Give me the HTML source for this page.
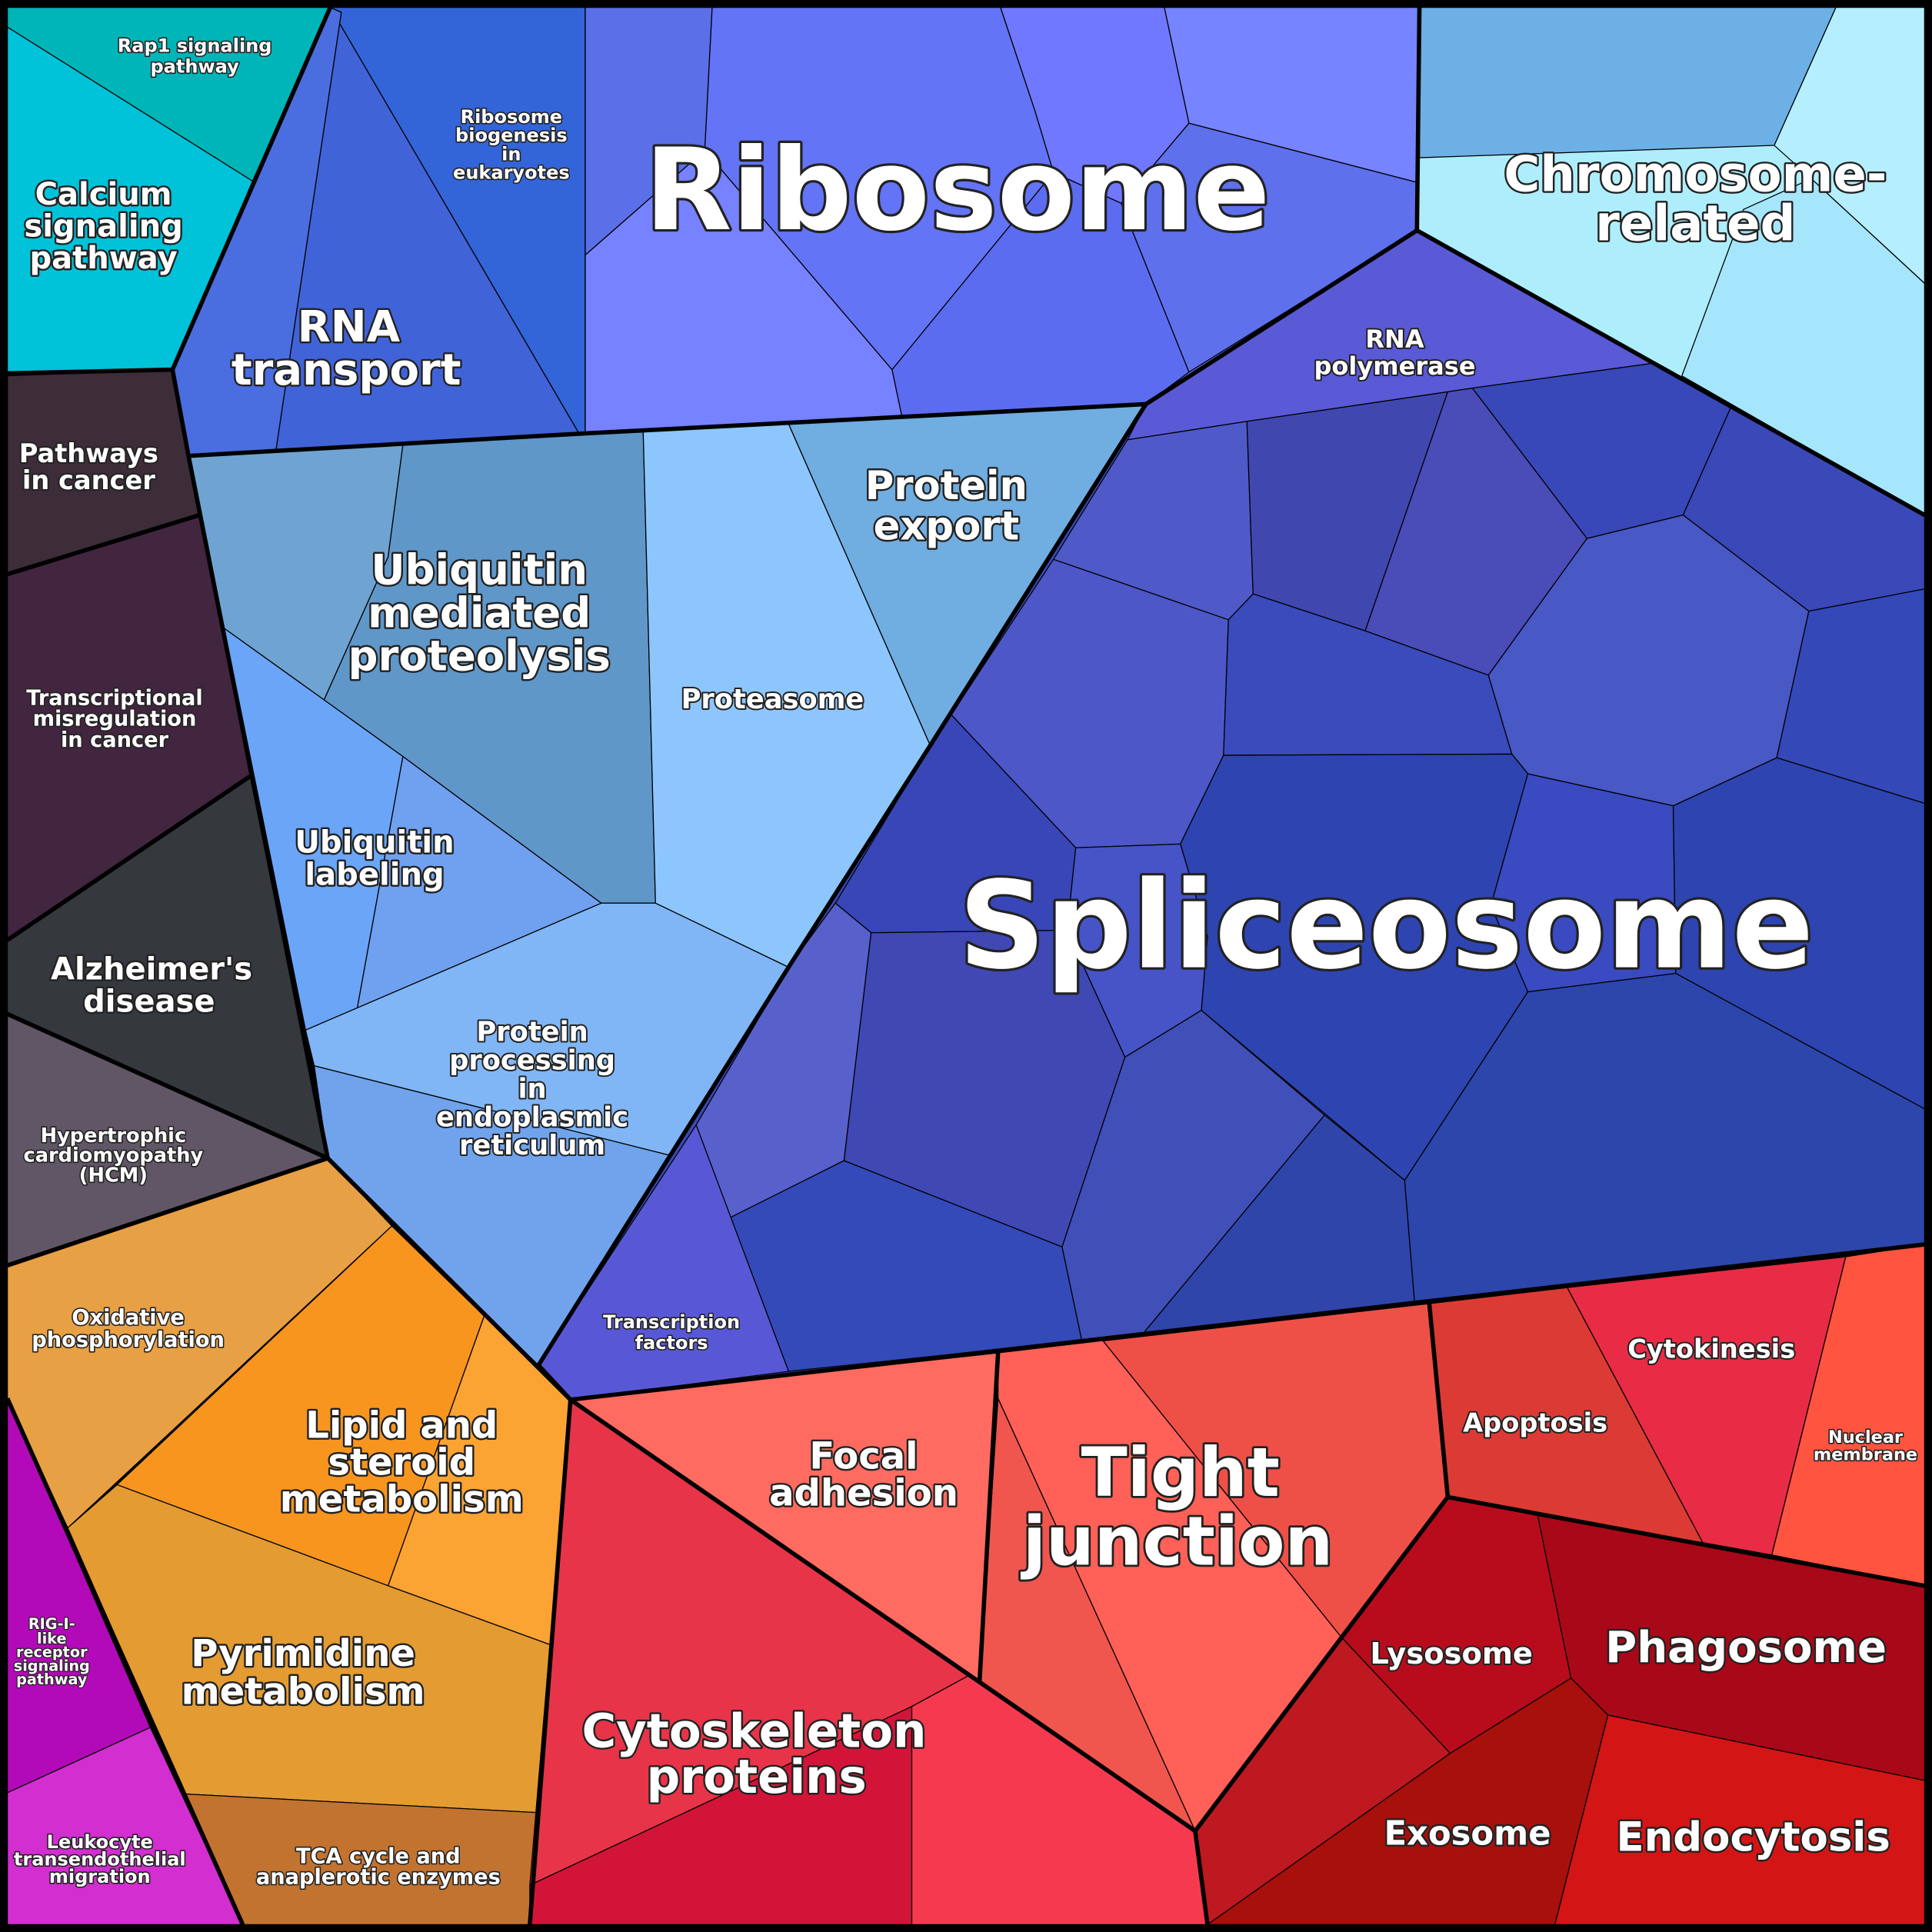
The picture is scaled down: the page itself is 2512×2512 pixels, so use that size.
<!DOCTYPE html>
<html><head><meta charset="utf-8"><style>
html,body{margin:0;padding:0;background:#000}
svg{display:block}
text{font-family:"DejaVu Sans","Liberation Sans",sans-serif;font-weight:bold;fill:#fff;text-anchor:middle;paint-order:stroke;stroke:#222;stroke-linejoin:round}
.k{stroke:#000;stroke-width:3.5;fill:none;stroke-linejoin:round}
</style></head><body>
<svg width="2512" height="2512" viewBox="0 0 1568 1568" xmlns="http://www.w3.org/2000/svg">
<rect x="0" y="0" width="1568" height="1568" fill="#000"/>
<g stroke="#000" stroke-width="0.8" stroke-linejoin="round">
<polygon fill="#00b5b8" points="6,6 268,6 205,147 6,22"/>
<polygon fill="#00c2d8" points="6,22 205,147 140,300 6,303"/>
<polygon fill="#3364d8" points="268,6 475,6 475,352 470,352"/>
<polygon fill="#4163d8" points="268,6 470,352 224,365 277,10"/>
<polygon fill="#4a6ee0" points="268,6 277,10 224,365 153,370 140,300 205,147"/>
<polygon fill="#6676f5" points="475,6 1152,6 1150,187 930,328 475,352"/>
<polygon fill="#5a6fe8" points="475,6 578,6 572,122 475,207"/>
<polygon fill="#7682ff" points="475,207 572,122 724,300 732,338 475,352"/>
<polygon fill="#6474f6" points="578,6 812,6 840,90 855,140 724,300 572,122"/>
<polygon fill="#7078ff" points="812,6 945,6 965,100 910,165 855,140 840,90"/>
<polygon fill="#7684ff" points="945,6 1152,6 1150,148 965,100"/>
<polygon fill="#5c6cf0" points="855,140 910,165 965,302 930,328 732,338 724,300"/>
<polygon fill="#5e70ec" points="965,100 1150,148 1150,187 965,302 910,165"/>
<polygon fill="#aeeefc" points="1152,6 1562,6 1562,418 1150,187"/>
<polygon fill="#6db0e6" points="1152,6 1490,6 1440,118 1152,128"/>
<polygon fill="#b4eeff" points="1490,6 1562,6 1562,230 1470,145 1440,118"/>
<polygon fill="#a6e6fc" points="1415,170 1470,145 1562,230 1562,418 1365,305"/>
<polygon fill="#3a4ab8" points="930,328 1150,187 1562,418 1562,1010 463,1136 437,1108"/>
<polygon fill="#5a5ad6" points="930,328 1150,187 1340,295 1195,315 1012,342 915,357"/>
<polygon fill="#4f5ac8" points="915,357 1012,342 1017,482 997,503 855,454"/>
<polygon fill="#4048b0" points="1012,342 1175,318 1108,512 1017,482"/>
<polygon fill="#4a4cb8" points="1175,318 1195,315 1288,437 1208,548 1108,512"/>
<polygon fill="#3848b8" points="1195,315 1340,295 1405,330 1366,418 1288,437"/>
<polygon fill="#3a48b8" points="1405,330 1562,418 1562,478 1468,496 1366,418"/>
<polygon fill="#4d57c8" points="855,454 997,503 993,613 958,685 873,688 772,580"/>
<polygon fill="#3a4bbb" points="997,503 1017,482 1108,512 1208,548 1227,612 993,613"/>
<polygon fill="#4858c4" points="1288,437 1366,418 1468,496 1442,615 1358,654 1240,628 1227,612 1208,548"/>
<polygon fill="#3448b8" points="1468,496 1562,478 1562,652 1442,615"/>
<polygon fill="#2e44b0" points="958,685 993,613 1227,612 1240,628 1210,735 1240,805 1140,958 975,820 980,760"/>
<polygon fill="#4654c8" points="873,688 958,685 980,760 975,820 913,858 866,755"/>
<polygon fill="#3846b8" points="755,605 772,580 873,688 866,755 707,757 678,733"/>
<polygon fill="#5860cc" points="678,733 707,757 685,942 593,988 565,913 640,785"/>
<polygon fill="#4048b4" points="707,757 866,755 913,858 862,1012 685,942"/>
<polygon fill="#334ab8" points="685,942 862,1012 878,1088 640,1113 593,988"/>
<polygon fill="#4050b8" points="913,858 975,820 1075,905 928,1082 878,1088 862,1012"/>
<polygon fill="#2f45aa" points="1075,905 1140,958 1148,1056 928,1082"/>
<polygon fill="#3a4ac0" points="1210,735 1240,628 1358,654 1360,790 1240,805"/>
<polygon fill="#2e44b0" points="1358,654 1442,615 1562,652 1562,900 1360,790"/>
<polygon fill="#2c46ac" points="1240,805 1360,790 1562,900 1562,1010 1148,1056 1140,958"/>
<polygon fill="#5858d6" points="565,913 640,1113 463,1136 437,1108"/>
<polygon fill="#3c2d38" points="6,305 140,300 162,418 6,466"/>
<polygon fill="#42253f" points="6,466 162,418 203,630 6,763"/>
<polygon fill="#35383d" points="6,763 203,630 266,940 6,823"/>
<polygon fill="#615666" points="6,823 266,940 6,1027"/>
<polygon fill="#6fa3d1" points="153,370 327,361 315,452 263,568 182,510"/>
<polygon fill="#5f97c9" points="327,361 522,350 532,733 488,733 327,614 263,568 315,452"/>
<polygon fill="#8cc6fc" points="522,350 640,344 755,605 640,785 532,733"/>
<polygon fill="#70ade0" points="640,344 930,328 755,605"/>
<polygon fill="#6aa5f8" points="182,510 263,568 327,614 290,818 248,836"/>
<polygon fill="#70a0f0" points="327,614 488,733 290,818"/>
<polygon fill="#80b6f5" points="248,836 290,818 488,733 532,733 640,785 545,938 255,865"/>
<polygon fill="#70a3ec" points="255,865 545,938 437,1108 266,940"/>
<polygon fill="#e8a045" points="6,1027 266,940 318,995 55,1240 6,1135"/>
<polygon fill="#f7951f" points="318,995 393,1068 315,1287 95,1205"/>
<polygon fill="#fba333" points="393,1068 437,1108 463,1136 447,1335 315,1287"/>
<polygon fill="#e39b32" points="95,1205 315,1287 447,1335 435,1471 150,1456 55,1240"/>
<polygon fill="#c27330" points="150,1456 435,1471 430,1562 197,1562"/>
<polygon fill="#b20ab8" points="6,1135 122,1402 6,1455"/>
<polygon fill="#d22ed0" points="6,1455 122,1402 197,1562 6,1562"/>
<polygon fill="#ff6b60" points="463,1136 810,1098 795,1365 786,1360"/>
<polygon fill="#ee5048" points="810,1098 1160,1058 1175,1215 1088,1328 895,1088"/>
<polygon fill="#ff6057" points="810,1098 895,1088 1088,1328 970,1486 810,1135"/>
<polygon fill="#f0564e" points="810,1135 970,1486 795,1365"/>
<polygon fill="#e83448" points="463,1136 786,1360 740,1385 430,1530"/>
<polygon fill="#d31439" points="430,1530 740,1385 740,1562 430,1562"/>
<polygon fill="#f53a50" points="740,1385 786,1360 970,1486 980,1562 740,1562"/>
<polygon fill="#dc3a34" points="1160,1058 1272,1045 1382,1252 1248,1230 1175,1215"/>
<polygon fill="#e82c46" points="1272,1045 1498,1020 1438,1262 1382,1252"/>
<polygon fill="#ff5540" points="1498,1020 1562,1010 1562,1287 1438,1262"/>
<polygon fill="#b80c1c" points="1175,1215 1248,1230 1275,1362 1177,1423 1088,1328"/>
<polygon fill="#a80818" points="1248,1230 1562,1287 1562,1445 1305,1392 1275,1362"/>
<polygon fill="#be1820" points="1088,1328 1177,1423 980,1562 970,1486"/>
<polygon fill="#a8100c" points="1177,1423 1275,1362 1305,1392 1262,1562 980,1562"/>
<polygon fill="#d41515" points="1305,1392 1562,1445 1562,1562 1262,1562"/>
</g>
<g class="k">
<polyline points="268,6 140,300 6,303"/>
<polyline points="1152,6 1150,187 930,328 470,352 153,370 140,300"/>
<polyline points="1150,187 1562,418"/>
<polyline points="930,328 755,605 640,785 437,1108 463,1136"/>
<polyline points="153,370 266,940 463,1136 1562,1010"/>
<polyline points="6,466 162,418"/><polyline points="6,763 203,630"/><polyline points="6,823 266,940 6,1027"/>
<polyline points="6,1135 197,1562"/>
<polyline points="463,1136 430,1562"/>
<polyline points="463,1136 970,1486 980,1562"/>
<polyline points="810,1098 795,1365"/>
<polyline points="1160,1058 1175,1215 970,1486"/>
<polyline points="1175,1215 1562,1287"/>
<rect x="3" y="3" width="1562" height="1562" stroke-width="6"/>
</g>
<text x="158" y="42" font-size="15" stroke-width="2">Rap1 signaling<tspan x="158" dy="17">pathway</tspan></text>
<text x="84" y="166" font-size="25" stroke-width="3">Calcium<tspan x="84" dy="26">signaling</tspan><tspan x="84" dy="26">pathway</tspan></text>
<text x="415" y="100" font-size="15" stroke-width="2">Ribosome<tspan x="415" dy="15">biogenesis</tspan><tspan x="415" dy="15">in</tspan><tspan x="415" dy="15">eukaryotes</tspan></text>
<text x="283" y="277" font-size="35" stroke-width="3">RNA<tspan x="281" dy="35">transport</tspan></text>
<text x="777" y="186" font-size="92" stroke-width="4">Ribosome</text>
<text x="1376" y="155" font-size="40" stroke-width="3">Chromosome-<tspan x="1376" dy="40">related</tspan></text>
<text x="1132" y="282" font-size="20" stroke-width="2.5">RNA<tspan x="1132" dy="22">polymerase</tspan></text>
<text x="72" y="375" font-size="21" stroke-width="2.5">Pathways<tspan x="72" dy="22">in cancer</tspan></text>
<text x="93" y="572" font-size="17" stroke-width="2">Transcriptional<tspan x="93" dy="17">misregulation</tspan><tspan x="93" dy="17">in cancer</tspan></text>
<text x="123" y="795" font-size="25" stroke-width="3">Alzheimer's<tspan x="121" dy="26">disease</tspan></text>
<text x="92" y="927" font-size="16" stroke-width="2">Hypertrophic<tspan x="92" dy="16">cardiomyopathy</tspan><tspan x="92" dy="16">(HCM)</tspan></text>
<text x="389" y="474" font-size="34" stroke-width="3">Ubiquitin<tspan x="389" dy="35">mediated</tspan><tspan x="389" dy="35">proteolysis</tspan></text>
<text x="627" y="575" font-size="22" stroke-width="2.5">Proteasome</text>
<text x="768" y="405" font-size="32" stroke-width="3">Protein<tspan x="768" dy="33">export</tspan></text>
<text x="304" y="692" font-size="25" stroke-width="3">Ubiquitin<tspan x="304" dy="26">labeling</tspan></text>
<text x="432" y="845" font-size="22" stroke-width="2.5">Protein<tspan x="432" dy="23">processing</tspan><tspan x="432" dy="23">in</tspan><tspan x="432" dy="23">endoplasmic</tspan><tspan x="432" dy="23">reticulum</tspan></text>
<text x="1125" y="785" font-size="98" stroke-width="4">Spliceosome</text>
<text x="545" y="1078" font-size="15" stroke-width="2">Transcription<tspan x="545" dy="17">factors</tspan></text>
<text x="104" y="1075" font-size="17" stroke-width="2">Oxidative<tspan x="104" dy="18">phosphorylation</tspan></text>
<text x="326" y="1167" font-size="30" stroke-width="3">Lipid and<tspan x="326" dy="30">steroid</tspan><tspan x="326" dy="30">metabolism</tspan></text>
<text x="246" y="1352" font-size="30" stroke-width="3">Pyrimidine<tspan x="246" dy="31">metabolism</tspan></text>
<text x="307" y="1512" font-size="17" stroke-width="2">TCA cycle and<tspan x="307" dy="17">anaplerotic enzymes</tspan></text>
<text x="42" y="1322" font-size="12" stroke-width="1.5">RIG-I-<tspan x="42" dy="12">like</tspan><tspan x="42" dy="11">receptor</tspan><tspan x="42" dy="11">signaling</tspan><tspan x="42" dy="11">pathway</tspan></text>
<text x="81" y="1500" font-size="15" stroke-width="2">Leukocyte<tspan x="81" dy="14">transendothelial</tspan><tspan x="81" dy="14">migration</tspan></text>
<text x="701" y="1192" font-size="30" stroke-width="3">Focal<tspan x="701" dy="30">adhesion</tspan></text>
<text x="958" y="1214" font-size="55" stroke-width="3.5">Tight<tspan x="956" dy="56">junction</tspan></text>
<text x="612" y="1418" font-size="38" stroke-width="3">Cytoskeleton<tspan x="614" dy="37">proteins</tspan></text>
<text x="1246" y="1162" font-size="21" stroke-width="2.5">Apoptosis</text>
<text x="1389" y="1102" font-size="21" stroke-width="2.5">Cytokinesis</text>
<text x="1514" y="1171" font-size="14" stroke-width="2">Nuclear<tspan x="1514" dy="14">membrane</tspan></text>
<text x="1178" y="1350" font-size="24" stroke-width="2.5">Lysosome</text>
<text x="1417" y="1349" font-size="35" stroke-width="3">Phagosome</text>
<text x="1191" y="1497" font-size="27" stroke-width="3">Exosome</text>
<text x="1423" y="1502" font-size="33" stroke-width="3">Endocytosis</text>
</svg>
</body></html>
